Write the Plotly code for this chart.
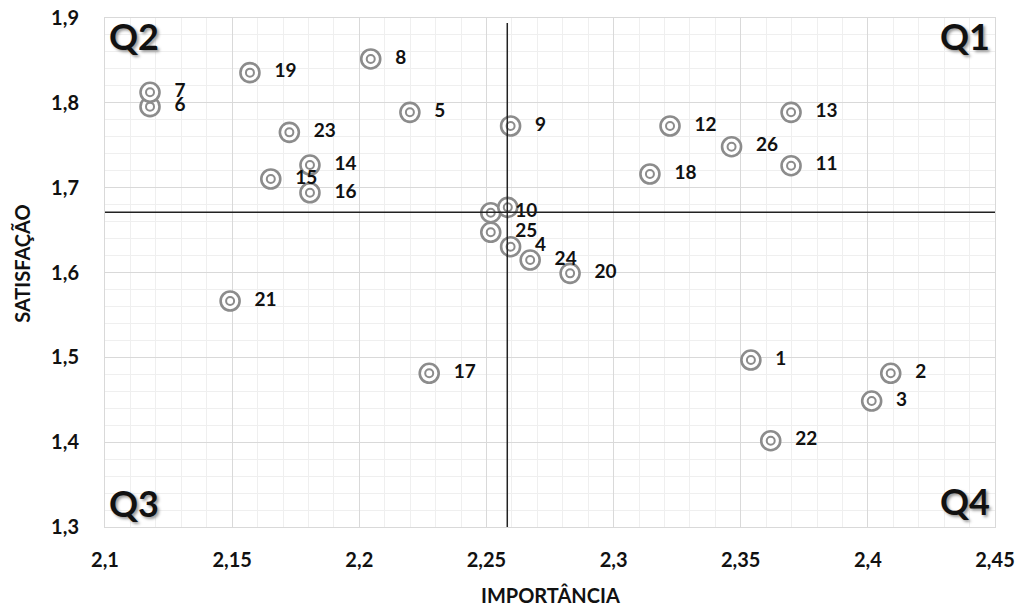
import plotly.graph_objects as go

# Data
labels = ["1", "2", "3", "4", "5", "6", "7", "8", "9", "10", "11", "12", "13",
          "14", "15", "16", "17", "18", "19", "20", "21", "22", "23", "24", "25", "26", ""]
importancia = [2.354, 2.409, 2.4015, 2.2595, 2.2199, 2.1177, 2.1177, 2.2045, 2.2595, 2.2517,
               2.3698, 2.3222, 2.3698, 2.1806, 2.1652, 2.1806, 2.2275, 2.3143, 2.157, 2.2829,
               2.1492, 2.3618, 2.1725, 2.2672, 2.2517, 2.3464, 2.2584]
satisfacao = [1.4968, 1.4812, 1.4485, 1.6304, 1.7888, 1.7955, 1.8124, 1.8517, 1.7727, 1.6705,
              1.7259, 1.7727, 1.7888, 1.7267, 1.7102, 1.694, 1.4812, 1.7161, 1.8356, 1.599,
              1.5664, 1.4017, 1.7652, 1.6147, 1.6474, 1.7483, 1.6768]

x_mean = 2.2582
y_mean = 1.671

x_ticks = [2.1, 2.15, 2.2, 2.25, 2.3, 2.35, 2.4, 2.45]
y_ticks = [1.3, 1.4, 1.5, 1.6, 1.7, 1.8, 1.9]

ring_color = "#8c8c8c"
font_family = "Lato"

fig = go.Figure()

# outer ring
fig.add_trace(go.Scatter(
    x=importancia, y=satisfacao, mode="markers",
    marker=dict(symbol="circle", size=19, color="white",
                line=dict(color=ring_color, width=2.6)),
    hoverinfo="skip", showlegend=False))
# inner ring + labels
fig.add_trace(go.Scatter(
    x=importancia, y=satisfacao, mode="markers+text",
    text=["    " + t if t else "" for t in labels], textposition="middle right",
    textfont=dict(family=font_family, size=19, color="#111111", weight="bold"),
    marker=dict(symbol="circle", size=8, color="white",
                line=dict(color=ring_color, width=2)),
    showlegend=False))

# quadrant lines
fig.add_shape(type="line", xref="x", yref="y", x0=x_mean, x1=x_mean, y0=1.2975, y1=1.894,
              line=dict(color="#222222", width=1.5), layer="above")
fig.add_shape(type="line", xref="x", yref="y", x0=2.1, x1=2.45, y0=y_mean, y1=y_mean,
              line=dict(color="#222222", width=1.5), layer="above")

qfont = dict(family=font_family, size=36, color="#111111", weight="bold",
             shadow="2px 2px 3px #999")
for txt, xp, yp, xa, ya, ys in [("Q2", 0.002, 1.0, "left", "top", 6),
                                ("Q1", 0.997, 1.0, "right", "top", 6),
                                ("Q3", 0.002, 0.0, "left", "bottom", 0),
                                ("Q4", 0.997, 0.0, "right", "bottom", 2)]:
    fig.add_annotation(text=txt, xref="paper", yref="paper", x=xp, y=yp, yshift=ys,
                       xanchor=xa, yanchor=ya, showarrow=False, font=qfont)

tickfont = dict(family=font_family, size=20, color="#111111", weight="bold")
titlefont = dict(family=font_family, size=20, color="#111111", weight="bold")
fig.update_layout(
    width=1021, height=607,
    margin=dict(l=105, r=26, t=18, b=80),
    paper_bgcolor="white", plot_bgcolor="white",
    separators=",.",
    xaxis=dict(range=[2.1, 2.45], tickvals=x_ticks, tickfont=tickfont, automargin=False,
               showgrid=True, gridcolor="#d9d9d9", gridwidth=1.2,
               minor=dict(dtick=0.01, showgrid=True, gridcolor="#efefef", gridwidth=1),
               zeroline=False, showline=True, linecolor="#d9d9d9", mirror=True,
               ticks="", ticklabelstandoff=15),
    yaxis=dict(range=[1.3, 1.9], tickvals=y_ticks, tickfont=tickfont, automargin=False,
               showgrid=True, gridcolor="#d9d9d9", gridwidth=1.2,
               minor=dict(dtick=0.02, showgrid=True, gridcolor="#efefef", gridwidth=1),
               zeroline=False, showline=True, linecolor="#d9d9d9", mirror=True,
               ticks="", ticklabelstandoff=21),
)
fig.add_annotation(text="IMPORTÂNCIA", xref="paper", yref="paper", x=0.5, y=-0.1336,
                   xanchor="center", yanchor="middle", showarrow=False, font=titlefont)
fig.add_annotation(text="SATISFAÇÃO", xref="paper", yref="paper", x=-0.0933, y=0.519,
                   xanchor="center", yanchor="middle", textangle=-90, showarrow=False, font=titlefont)

# remove the default 8px page margin so the 1021x607 figure fills the window exactly
fig.write_html("out.html", config={"displayModeBar": False},
               post_script="document.body.style.margin='0px';")
